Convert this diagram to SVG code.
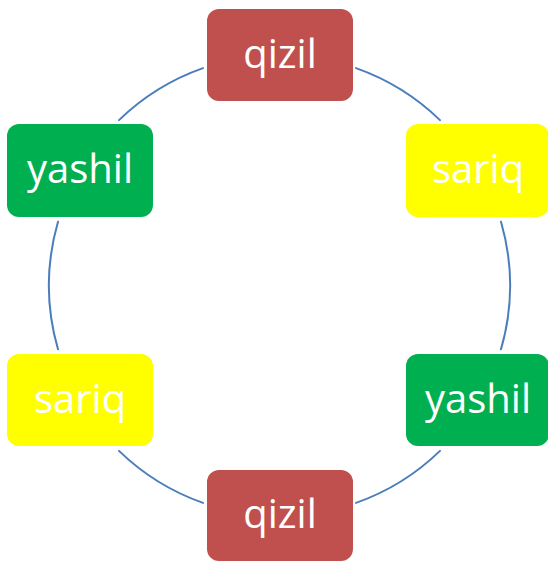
<svg xmlns="http://www.w3.org/2000/svg" width="548" height="561" viewBox="0 0 548 561">
<style>
.conn{fill:none;stroke:#4A7EBB;stroke-width:2;stroke-linecap:round}
.red{fill:#C0504D}
.yellow{fill:#FFFF00}
.green{fill:#00B050}
.lbl{font-family:"Open Sans","Noto Sans",sans-serif;font-size:40px;fill:#ffffff;text-anchor:middle}
</style>
<rect width="548" height="561" fill="#ffffff"/>
<g id="connectors">
<path class="conn" d="M356,68.1 A230.5,230.5 0 0 1 440,120.1"/>
<path class="conn" d="M501,221.7 A230.5,230.5 0 0 1 501,349.3"/>
<path class="conn" d="M440,450.9 A230.5,230.5 0 0 1 356,502.9"/>
<path class="conn" d="M203,502.9 A230.5,230.5 0 0 1 119,450.9"/>
<path class="conn" d="M58,349.3 A230.5,230.5 0 0 1 58,221.7"/>
<path class="conn" d="M119,120.1 A230.5,230.5 0 0 1 203,68.1"/>
</g>
<g id="node-qizil-top">
<rect class="red" x="207" y="9" width="146" height="92" rx="12"/>
<text class="lbl" x="280" y="68">qizil</text>
</g>
<g id="node-sariq-right">
<rect class="yellow" x="406" y="124" width="143" height="93" rx="12"/>
<text class="lbl" x="478" y="183">sariq</text>
</g>
<g id="node-yashil-right">
<rect class="green" x="406" y="354" width="143" height="92" rx="12"/>
<text class="lbl" x="478" y="413">yashil</text>
</g>
<g id="node-qizil-bottom">
<rect class="red" x="207" y="470" width="146" height="91" rx="12"/>
<text class="lbl" x="280" y="528">qizil</text>
</g>
<g id="node-sariq-left">
<rect class="yellow" x="7" y="354" width="146" height="92" rx="12"/>
<text class="lbl" x="80" y="413">sariq</text>
</g>
<g id="node-yashil-left">
<rect class="green" x="7" y="124" width="146" height="93" rx="12"/>
<text class="lbl" x="80" y="183">yashil</text>
</g>
</svg>
